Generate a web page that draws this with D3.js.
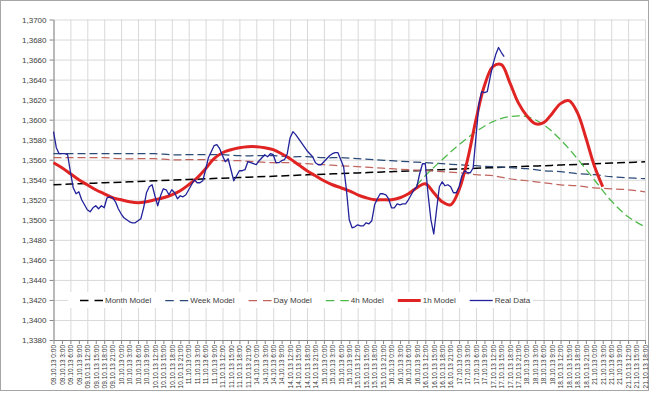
<!DOCTYPE html>
<html>
<head>
<meta charset="utf-8">
<script src="https://cdn.jsdelivr.net/npm/d3@7"></script>
<style>
  html, body { margin: 0; padding: 0; background: #fff; }
  svg { display: block; font-family: "Liberation Sans", Arial, sans-serif; }
</style>
</head>
<body>
<div id="chart"></div>
<script>
// category axis: hourly, weekend skipped, last day ends at 18:00
var days = ['09.10.13', '10.10.13', '11.10.13', '14.10.13', '15.10.13',
    '16.10.13', '17.10.13', '18.10.13', '21.10.13'];
var lastDayHours = 19;

var yTicks = [1.338, 1.340, 1.342, 1.344, 1.346, 1.348, 1.350, 1.352, 1.354,
    1.356, 1.358, 1.360, 1.362, 1.364, 1.366, 1.368, 1.370];

// Real Data, one value per hour from 09.10.13 0:00
var realData = [
    1.3588, 1.3572, 1.3566, 1.3566, 1.3566, 1.3565, 1.3548, 1.3532, 1.3526, 1.3528,
    1.3520, 1.3515, 1.3510, 1.3508, 1.3512, 1.3514, 1.3511, 1.3514, 1.3512, 1.3522,
    1.3523, 1.3522, 1.3518, 1.3511, 1.3506, 1.3502, 1.3500, 1.3498, 1.3497, 1.3497,
    1.3499, 1.3501, 1.3512, 1.3527, 1.3533, 1.3535, 1.3524, 1.3514, 1.3524, 1.3531,
    1.3530, 1.3525, 1.3530, 1.3527, 1.3521, 1.3524, 1.3523, 1.3525, 1.3530, 1.3535,
    1.3540, 1.3537, 1.3537, 1.3539, 1.3550, 1.3562, 1.3568, 1.3574, 1.3575, 1.3571,
    1.3564, 1.3558, 1.3561, 1.3550, 1.3539, 1.3544, 1.3549, 1.3549, 1.3550, 1.3558,
    1.3557, 1.3556, 1.3555, 1.3559, 1.3562, 1.3565, 1.3563, 1.3566, 1.3565, 1.3557,
    1.3557, 1.3559, 1.3560, 1.3566, 1.3582, 1.3588, 1.3585, 1.3581, 1.3577, 1.3573,
    1.3569, 1.3566, 1.3563, 1.3557, 1.3555, 1.3555, 1.3558, 1.3561, 1.3564, 1.3566,
    1.3567, 1.3567, 1.3560, 1.3553, 1.3530, 1.3500, 1.3492, 1.3493, 1.3495, 1.3494,
    1.3494, 1.3497, 1.3496, 1.3499, 1.3515, 1.3521, 1.3526, 1.3526, 1.3525, 1.3521,
    1.3512, 1.3512, 1.3516, 1.3515, 1.3516, 1.3516, 1.3520, 1.3525, 1.3530, 1.3533,
    1.3546, 1.3556, 1.3556, 1.3525, 1.3500, 1.3486, 1.3510, 1.3533, 1.3538, 1.3534,
    1.3535, 1.3533, 1.3527, 1.3527, 1.3533, 1.3544, 1.3549, 1.3547, 1.3547, 1.3552,
    1.3583, 1.3615, 1.3628, 1.3627, 1.3628, 1.3642, 1.3655, 1.3665, 1.3672, 1.3667,
    1.3663
];

// 1h Model, every 3 hours from hour 0
var h1Start = 0, h1Step = 3;
var h1Model = [
    1.3557, 1.3552, 1.3546, 1.3540, 1.3535, 1.3530, 1.3526, 1.3522, 1.3520, 1.3518,
    1.3517, 1.3518, 1.3520, 1.3522, 1.3525, 1.3529, 1.3535, 1.3542, 1.3551, 1.3561,
    1.3567, 1.3570, 1.3572, 1.3573, 1.3573, 1.3572, 1.3570, 1.3566, 1.3561, 1.3555,
    1.3549, 1.3544, 1.3539, 1.3535, 1.3532, 1.3529, 1.3525, 1.3522, 1.3520, 1.3520,
    1.3520, 1.3522, 1.3526, 1.3532, 1.3536, 1.3527, 1.3518, 1.3515, 1.3530, 1.3560,
    1.3600, 1.3634, 1.3653, 1.3655, 1.3637, 1.3617, 1.3604, 1.3596, 1.3597, 1.3606,
    1.3616, 1.3619, 1.3607, 1.3582, 1.3554, 1.3533
];

// 4h Model, every 6 hours from 16.10.13 6:00
var h4Start = 126, h4Step = 6;
var h4Model = [
    1.3525, 1.3544, 1.3560, 1.3575, 1.3588, 1.3598, 1.3603, 1.3603, 1.3595, 1.3580,
    1.3561, 1.3540, 1.3519, 1.3503, 1.3493
];

// Month / Week / Day models, every 6 hours from hour 0
var modelStep = 6;
var monthModel = [
    1.3535, 1.35357, 1.35363, 1.3537, 1.35376, 1.35383, 1.35389, 1.35396, 1.35403, 1.35409,
    1.35416, 1.35422, 1.35429, 1.35435, 1.35442, 1.35449, 1.35455, 1.35462, 1.35468, 1.35475,
    1.35481, 1.35488, 1.35494, 1.35501, 1.35507, 1.35514, 1.35521, 1.35527, 1.35534, 1.3554,
    1.35547, 1.35553, 1.3556, 1.35566, 1.35573, 1.3558
];
var weekModel = [
    1.3566, 1.3566, 1.3566, 1.3566, 1.3566, 1.3566, 1.3566, 1.3565, 1.3565, 1.3565,
    1.3565, 1.3564, 1.3564, 1.3564, 1.3563, 1.3563, 1.3562, 1.3562, 1.3561, 1.3560,
    1.3559, 1.3558, 1.3557, 1.3556, 1.3555, 1.3554, 1.3553, 1.3552, 1.3551, 1.3549,
    1.3548, 1.3546, 1.3545, 1.3543, 1.3542, 1.3541
];
var dayModel = [
    1.3562, 1.3562, 1.3562, 1.3562, 1.3561, 1.3561, 1.3561, 1.3560, 1.3560, 1.3560,
    1.3559, 1.3559, 1.3558, 1.3557, 1.3557, 1.3556, 1.3555, 1.3554, 1.3553, 1.3552,
    1.3551, 1.3550, 1.3549, 1.3548, 1.3547, 1.3545, 1.3544, 1.3541, 1.3539, 1.3537,
    1.3535, 1.3534, 1.3532, 1.3531, 1.3530, 1.3528
];

var seriesNames = ['Month Model', 'Week Model', 'Day Model', '4h Model', '1h Model', 'Real Data'];
var seriesColors = ['#000000', '#2b4a78', '#c0645e', '#4cb848', '#e02424', '#22229a'];

/////////////////////////////////////////////////////////////////

var chart = (function () {

    var W = 650, H = 394;
    var plot = { left: 53.5, right: 645, top: 19.5, bottom: 340 };

    var categories = [];
    days.forEach(function (d, dInd) {
        var n = dInd === days.length - 1 ? lastDayHours : 24;
        for (var h = 0; h < n; h++) {
            categories.push(d + ' ' + h + ':00');
        }
    });

    var toPoints = function (values, start, step) {
        return values.map(function (v, k) { return [start + k * step, v]; });
    };

    var svg = d3.select('#chart').append('svg')
        .attr('width', W).attr('height', H);

    svg.append('rect')
        .attr('x', 0.5).attr('y', 0.5)
        .attr('width', W - 2).attr('height', H - 4)
        .attr('fill', '#fff').attr('stroke', '#a6a6a6');

    var x = d3.scaleLinear().domain([0, categories.length - 1]).range([plot.left, plot.right]);
    var y = d3.scaleLinear().domain([yTicks[0], yTicks[yTicks.length - 1]]).range([plot.bottom, plot.top]);

    var labelInd = d3.range(0, categories.length, 3);
    var gridInd = d3.range(0, categories.length, 6);
    var fmt = function (v) { return d3.format('.4f')(v).replace('.', ','); };

    // gridlines
    svg.append('g')
        .attr('transform', 'translate(' + plot.left + ',0)')
        .call(d3.axisLeft(y).tickValues(yTicks).tickSize(-(plot.right - plot.left)).tickFormat(''))
        .call(function (g) { g.select('.domain').remove(); })
        .selectAll('line').attr('stroke', '#d9d9d9');
    svg.append('g')
        .attr('transform', 'translate(0,' + plot.bottom + ')')
        .call(d3.axisBottom(x).tickValues(gridInd).tickSize(-(plot.bottom - plot.top)).tickFormat(''))
        .call(function (g) { g.select('.domain').remove(); })
        .selectAll('line').attr('stroke', '#d9d9d9');

    // axes
    var yAxis = svg.append('g')
        .attr('transform', 'translate(' + plot.left + ',0)')
        .call(d3.axisLeft(y).tickValues(yTicks).tickSize(4).tickSizeOuter(0).tickPadding(3).tickFormat(fmt));
    yAxis.selectAll('line, .domain').attr('stroke', '#868686');
    yAxis.selectAll('text').attr('fill', '#404040')
        .style('font-size', '8px');

    var xAxis = svg.append('g')
        .attr('transform', 'translate(0,' + plot.bottom + ')')
        .call(d3.axisBottom(x).tickValues(labelInd).tickSize(4).tickSizeOuter(0)
            .tickFormat(function (i) { return categories[i]; }));
    xAxis.selectAll('line, .domain').attr('stroke', '#868686');
    xAxis.selectAll('text')
        .attr('fill', '#333')
        .style('font-size', '6.5px')
        .attr('text-anchor', 'end')
        .attr('x', -5).attr('y', 0).attr('dy', '0.35em')
        .attr('transform', 'rotate(-90)');

    // series
    var straight = d3.line()
        .x(function (d) { return x(d[0]); })
        .y(function (d) { return y(d[1]); });
    var smooth = d3.line()
        .curve(d3.curveCatmullRom)
        .x(function (d) { return x(d[0]); })
        .y(function (d) { return y(d[1]); });

    var series = [
        { pts: toPoints(monthModel, 0, modelStep), gen: smooth, w: 1.5, dash: '8,4' },
        { pts: toPoints(weekModel, 0, modelStep), gen: smooth, w: 1.25, dash: '8,4' },
        { pts: toPoints(dayModel, 0, modelStep), gen: smooth, w: 1.25, dash: '8,4' },
        { pts: toPoints(h4Model, h4Start, h4Step), gen: smooth, w: 1.25, dash: '8,4' },
        { pts: toPoints(h1Model, h1Start, h1Step), gen: smooth, w: 3, dash: null },
        { pts: toPoints(realData, 0, 1), gen: straight, w: 1.3, dash: null }
    ];

    series.forEach(function (s, sInd) {
        svg.append('path')
            .attr('d', s.gen(s.pts))
            .attr('fill', 'none')
            .attr('stroke', seriesColors[sInd])
            .attr('stroke-width', s.w)
            .attr('stroke-dasharray', s.dash)
            .attr('stroke-linejoin', 'round');
    });

    // legend
    var legend = svg.append('g');
    legend.append('rect')
        .attr('x', 68).attr('y', 292)
        .attr('width', 465).attr('height', 16)
        .attr('fill', '#fff');
    var lx = 80, ly = 303;
    seriesNames.forEach(function (name, sInd) {
        var s = series[sInd];
        legend.append('line')
            .attr('x1', lx).attr('x2', lx + 23)
            .attr('y1', ly - 2.5).attr('y2', ly - 2.5)
            .attr('stroke', seriesColors[sInd])
            .attr('stroke-width', s.w)
            .attr('stroke-dasharray', s.dash ? '8.5,6' : null);
        var t = legend.append('text')
            .attr('x', lx + 25).attr('y', ly)
            .attr('fill', '#404040')
            .style('font-size', '8px')
            .text(name);
        lx += 25 + t.node().getComputedTextLength() + 14;
    });

    return { x: x, y: y };
})();
</script>
</body>
</html>
